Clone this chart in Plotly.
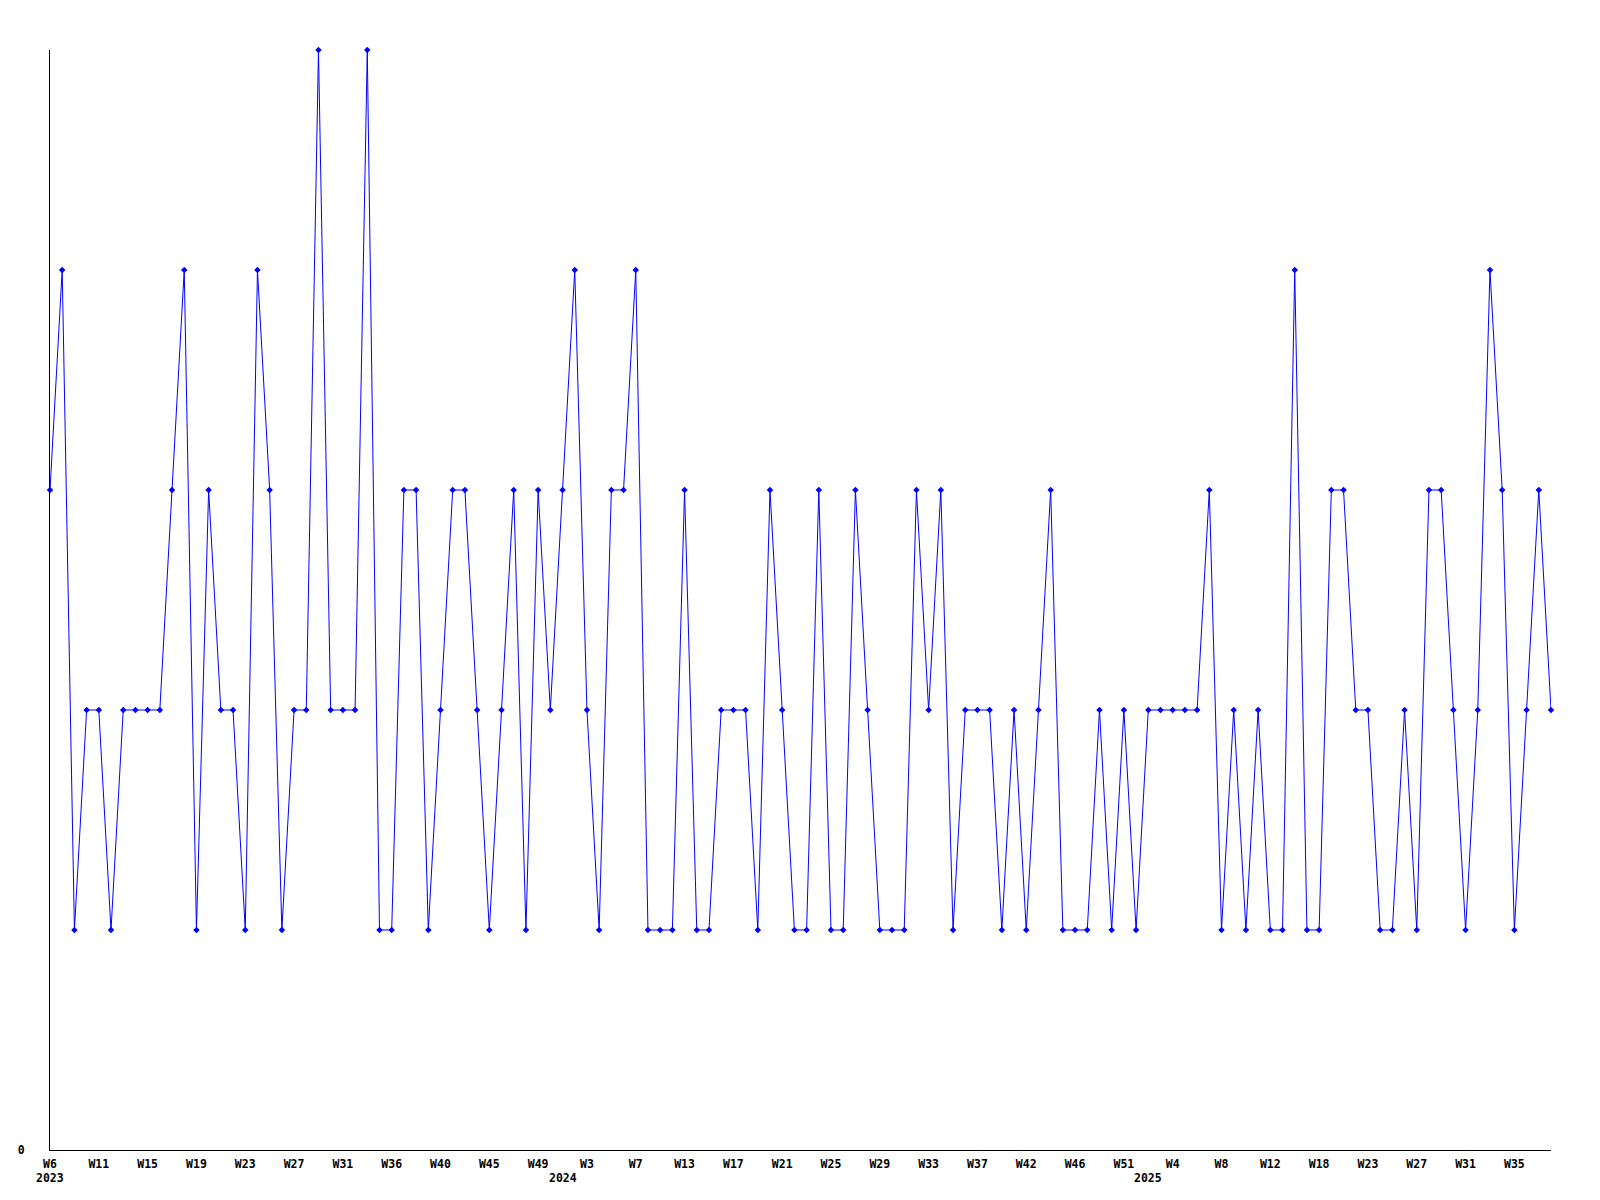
import plotly.graph_objects as go

values = [3, 4, 1, 2, 2, 1, 2, 2, 2, 2,
          3, 4, 1, 3, 2, 2, 1, 4, 3, 1,
          2, 2, 5, 2, 2, 2, 5, 1, 1, 3,
          3, 1, 2, 3, 3, 2, 1, 2, 3, 1,
          3, 2, 3, 4, 2, 1, 3, 3, 4, 1,
          1, 1, 3, 1, 1, 2, 2, 2, 1, 3,
          2, 1, 1, 3, 1, 1, 3, 2, 1, 1,
          1, 3, 2, 3, 1, 2, 2, 2, 1, 2,
          1, 2, 3, 1, 1, 1, 2, 1, 2, 1,
          2, 2, 2, 2, 2, 3, 1, 2, 1, 2,
          1, 1, 4, 1, 1, 3, 3, 2, 2, 1,
          1, 2, 1, 3, 3, 2, 1, 2, 4, 3,
          1, 2, 3, 2]

week_tick_labels = ["W6", "W11", "W15", "W19", "W23", "W27", "W31", "W36", "W40", "W45",
                    "W49", "W3", "W7", "W13", "W17", "W21", "W25", "W29", "W33", "W37",
                    "W42", "W46", "W51", "W4", "W8", "W12", "W18", "W23", "W27", "W31", "W35"]
tick_step = 4

year_labels = ["2023", "2024", "2025"]
year_index = [0, 42, 90]

x_index = list(range(len(values)))
tick_vals = list(range(0, len(values), tick_step))[:len(week_tick_labels)]

FONT = "DejaVu Sans Mono"
FS = 11.5

fig = go.Figure()
fig.add_trace(go.Scatter(
    x=x_index, y=values, mode="lines+markers",
    line=dict(color="#0000ff", width=1),
    marker=dict(symbol="diamond", size=5, color="#0000ff"),
    cliponaxis=False, showlegend=False,
))

for lbl, xi in zip(year_labels, year_index):
    fig.add_annotation(x=xi, y=0, xref="x", yref="y", text="<b>%s</b>" % lbl,
                       showarrow=False, yanchor="top", xanchor="center", yshift=-19,
                       font=dict(family=FONT, size=FS, color="black"))

fig.update_layout(
    width=1600, height=1200, autosize=False,
    margin=dict(l=50, r=49, t=50, b=50, pad=0),
    paper_bgcolor="white", plot_bgcolor="white",
    font=dict(family=FONT, size=FS, color="black"),
)
fig.update_xaxes(
    range=[0, len(values) - 1], tickmode="array", tickvals=tick_vals,
    ticktext=["<b>%s</b>" % t for t in week_tick_labels],
    showgrid=False, zeroline=False, showline=True, linecolor="black", linewidth=1,
    ticks="", ticklabelstandoff=3,
)
fig.update_yaxes(
    range=[0, 5], tickmode="array", tickvals=[0], ticktext=["<b>0</b>"],
    showgrid=False, zeroline=False, showline=True, linecolor="black", linewidth=1,
    ticks="", ticklabelstandoff=22,
)

fig.write_html("out.html", config={"displayModeBar": False},
               post_script="document.body.style.margin='0';")
